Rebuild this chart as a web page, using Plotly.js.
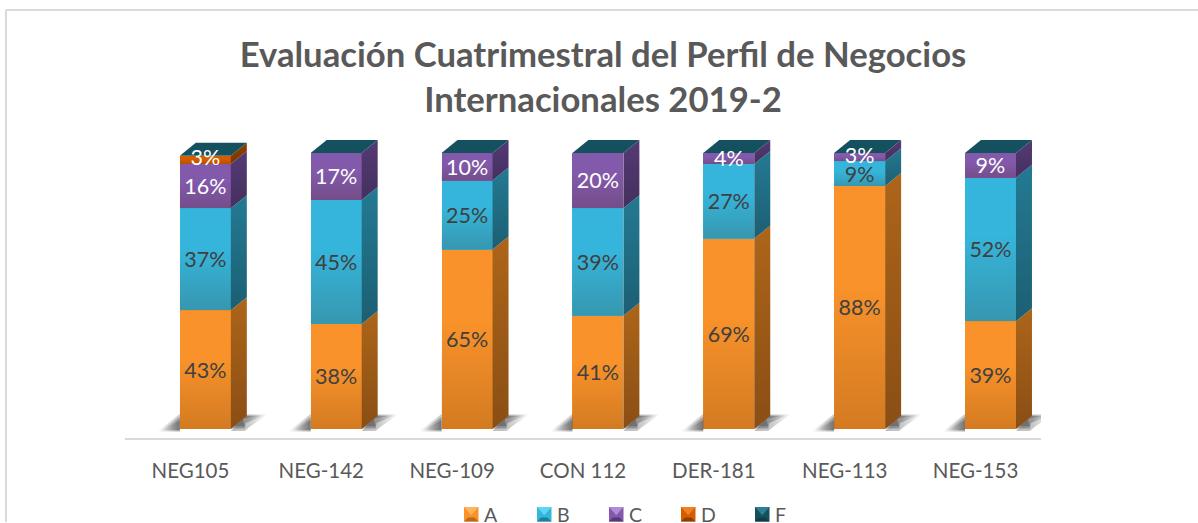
<!DOCTYPE html>
<html><head><meta charset="utf-8">
<script src="https://cdn.plot.ly/plotly-3.0.1.min.js"></script>
<style>html,body{margin:0;padding:0;background:#fff}</style></head>
<body><div id="chart" style="width:1198px;height:523px"></div>
<script>
const categories = ["NEG105","NEG-142","NEG-109","CON 112","DER-181","NEG-113","NEG-153"];
const valuesA = [43,38,65,41,69,88,39];
const valuesB = [37,45,25,39,27,9,52];
const valuesC = [16,17,10,20,4,3,9];
const valuesD = [3,0,0,0,0,0,0];
const valuesF = [0,0,0,0,0,0,0];
const seriesNames = ["A","B","C","D","F"];
const seriesValues = [valuesA,valuesB,valuesC,valuesD,valuesF];
const frontColors = ["#F9922A","#35B5DB","#8259AB","#D65C00","#15505E"];
const sideColors = ["#AD6519","#237A93","#553A75","#8E3F02","#123F4B"];
const sideColorsDark = ["#8A4E14","#1C5F73","#44305E","#7A3600","#103640"];
const bevelLight = ["#FFB45A","#5CD6F5","#B08BDA","#F08020","#2E7F92"];
const bevelDark = ["#B86A1C","#1F7F9C","#553A75","#8E3F02","#0F3C47"];
const labelColors = ["#404040","#404040","#FFFFFF","#FFFFFF","#FFFFFF"];

const PLOT = {l:125, r:1041, t:130, b:438, W:1198, H:523};
const PX_X = 1/130.86, PX_Y = 1/2.76;
const offset = -10.6*PX_X, barW = 51*PX_X, depthX = 16*PX_X, depthY = 13*PX_Y;
const noHover = {hoverinfo:"skip", showlegend:false, cliponaxis:false};
const traces = [];

// front faces
seriesNames.forEach((name,s)=>{
  traces.push({type:"bar", name, x:categories.map((_,i)=>i), y:seriesValues[s],
    offset, width:barW, marker:{color:frontColors[s], line:{width:0}}, hoverinfo:"skip", showlegend:false});
});

// floor shadows, soft nested layers
categories.forEach((_,i)=>{
  const L = i+offset, R = L+barW;
  [[0,0.3],[3,0.38],[6,0.42]].forEach(([d,a])=>{
    traces.push({type:"scatter", mode:"none", fill:"toself",
      x:[L,L,L-(23-d)*PX_X], y:[-1+d*PX_Y*0.3,(15-d)*PX_Y,-1+d*PX_Y*0.3],
      fillgradient:{type:"horizontal",colorscale:[[0,"rgba(70,70,70,0)"],[1,`rgba(70,70,70,${a})`]]}, ...noHover});
    traces.push({type:"scatter", mode:"none", fill:"toself",
      x:[R,R+depthX,R+(37-d)*PX_X,R+(18-d)*PX_X,R+14*PX_X], y:[(-1+d*0.4)*PX_Y*2,depthY+0.5-d*0.1,depthY+(2-d*0.3)*PX_Y,(1+d)*PX_Y*1.5,(-1+d*0.4)*PX_Y*2],
      fillgradient:{type:"horizontal",colorscale:[[0,`rgba(70,70,70,${a+0.05})`],[0.45,`rgba(70,70,70,${a})`],[1,"rgba(70,70,70,0)"]]}, ...noHover});
  });
});

// side faces, front shading, top faces
categories.forEach((_,i)=>{
  const L = i+offset, R = L+barW;
  let acc = 0;
  seriesValues.forEach((vals,s)=>{
    const v = vals[i];
    if(v>0){
      const y0 = acc, y1 = acc+v;
      traces.push({type:"scatter", mode:"none", fill:"toself",
        x:[R,R+depthX,R+depthX,R], y:[y0,y0+depthY,y1+depthY,y1],
        fillgradient:{type:"vertical",colorscale:[[0,sideColorsDark[s]],[1,sideColors[s]]]}, ...noHover});
      traces.push({type:"scatter", mode:"none", fill:"toself",
        x:[L,R,R,L], y:[y0,y0,y1,y1],
        fillgradient:{type:"vertical",colorscale:[[0,"rgba(60,30,0,0.2)"],[0.6,"rgba(60,30,0,0)"],[1,"rgba(60,30,0,0)"]]}, ...noHover});
      acc = y1;
    }
  });
  traces.push({type:"scatter", mode:"none", fill:"toself",
    x:[L,R,R+depthX,L+depthX], y:[acc,acc,acc+depthY,acc+depthY],
    fillcolor:frontColors[4], ...noHover});
});

// data labels
let stackBase = categories.map(()=>0);
seriesValues.forEach((vals,s)=>{
  const xs=[],ys=[],ts=[];
  vals.forEach((v,i)=>{
    if(v>0){ xs.push(i+offset+barW/2); ys.push(stackBase[i]+v/2-(v>3?2.5*PX_Y:0)); ts.push(v+"%"); }
    stackBase[i]+=v;
  });
  if(xs.length) traces.push({type:"scatter", mode:"text", x:xs, y:ys, text:ts, textposition:"middle center",
    textfont:{family:"Lato, sans-serif", size:21.5, color:labelColors[s]}, ...noHover});
});

// paper coordinates from picture pixels
const px = x=>(x-PLOT.l)/(PLOT.r-PLOT.l), py = y=>(PLOT.b-y)/(PLOT.b-PLOT.t);
const poly = (pts,fill)=>({type:"path", xref:"paper", yref:"paper", layer:"above", line:{width:0}, fillcolor:fill,
  path:"M"+pts.map(p=>px(p[0])+","+py(p[1])).join("L")+"Z"});
const legendSwatchX = [464,537,609,681,755];
const legendTextX = [484,557,629,701,775];
const legendShapes = [], legendAnn = [];
const sY0 = 507, sS = 14.5, sI = 4;
seriesNames.forEach((name,s)=>{
  const x = legendSwatchX[s], y = sY0;
  legendShapes.push(poly([[x,y],[x+sS,y],[x+sS,y+sS],[x,y+sS]],frontColors[s]));
  legendShapes.push(poly([[x,y],[x+sS,y],[x+sS/2,y+sS/2+1]],bevelLight[s]));
  legendShapes.push(poly([[x,y+sS],[x+sS,y+sS],[x+sS-sI,y+sS-sI],[x+sI,y+sS-sI]],bevelDark[s]));
  legendAnn.push({text:name, xref:"paper", yref:"paper", x:px(legendTextX[s]), y:py(513.5), xanchor:"left", yanchor:"middle",
    xshift:-1, height:18, borderpad:0, showarrow:false, font:{family:"Lato, sans-serif", size:19.5, color:"#595959"}});
});

const layout = {
  width:PLOT.W, height:PLOT.H, paper_bgcolor:"#fff", plot_bgcolor:"#fff",
  margin:{l:PLOT.l,r:PLOT.W-PLOT.r,t:PLOT.t,b:PLOT.H-PLOT.b},
  barmode:"stack", bargap:0,
  title:{text:"Evaluación Cuatrimestral del Perfil de Negocios<br>Internacionales 2019-2",
    font:{family:"Lato, sans-serif", size:34.7, color:"#595959", weight:700},
    x:603/1198, xanchor:"center", xref:"container", y:1-67/523, yanchor:"middle", yref:"container"},
  xaxis:{range:[-0.5,6.5], tickmode:"array", tickvals:categories.map((_,i)=>i), ticktext:categories,
    showgrid:false, zeroline:false, showline:true, linecolor:"#D9D9D9", linewidth:2, ticks:"",
    ticklabelstandoff:13, tickfont:{family:"Lato, sans-serif", size:20.5, color:"#595959"}, fixedrange:true},
  yaxis:{range:[-3.26,108.33], showgrid:false, zeroline:false, showline:false, showticklabels:false, ticks:"", fixedrange:true},
  showlegend:false,
  annotations:legendAnn,
  shapes:[
    {type:"line", xref:"paper", yref:"paper", x0:px(6), x1:px(1198), y0:py(10), y1:py(10), line:{color:"#D9D9D9",width:2}, layer:"below"},
    {type:"line", xref:"paper", yref:"paper", x0:px(6), x1:px(6), y0:py(10), y1:py(522), line:{color:"#D9D9D9",width:2}, layer:"below"},
    ...legendShapes
  ]
};
Plotly.newPlot("chart", traces, layout, {displayModeBar:false, responsive:false});
</script></body></html>
